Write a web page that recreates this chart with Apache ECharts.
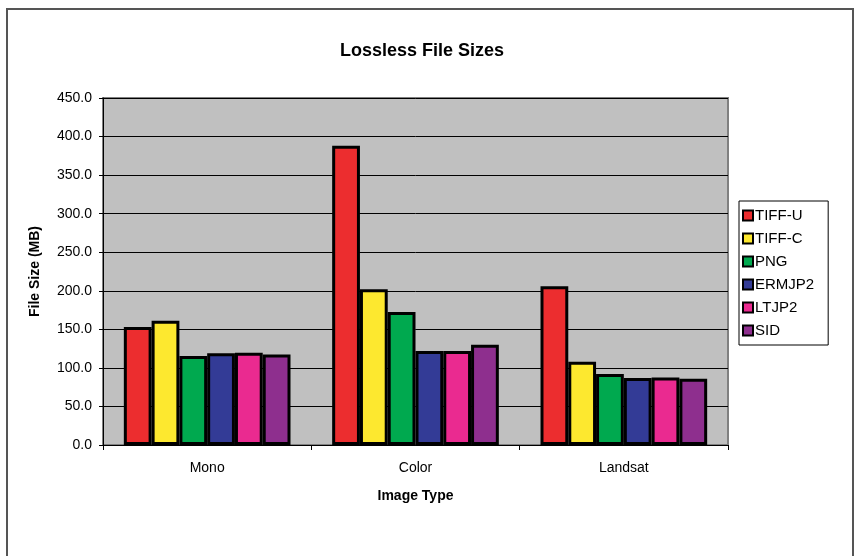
<!DOCTYPE html>
<html lang="en">
<head>
    <meta charset="UTF-8">
    <title>Lossless File Sizes</title>
    <style>
        body { margin: 0; background: #fff; }
        #chart { width: 860px; height: 556px; }
    </style>
</head>
<body>
    <div id="chart"></div>
    <script src="https://cdn.jsdelivr.net/npm/echarts@6/dist/echarts.min.js"></script>
    <script>
        const categories = ['Mono', 'Color', 'Landsat'];
        const seriesNames = ['TIFF-U', 'TIFF-C', 'PNG', 'ERMJP2', 'LTJP2', 'SID'];
        const tiffU = [153.0, 388.0, 206.0];
        const tiffC = [161.0, 202.0, 108.0];
        const png = [115.5, 172.5, 92.0];
        const ermjp2 = [119.0, 122.0, 87.0];
        const ltjp2 = [119.5, 122.0, 87.5];
        const sid = [117.5, 130.0, 86.0];
        const colors = ['#ec2d2f', '#fde82f', '#00a94f', '#333b96', '#ea2a90', '#8e2f8e'];

        const values = [tiffU, tiffC, png, ermjp2, ltjp2, sid];
        const font = 'Liberation Sans, Arial, sans-serif';

        const chart = echarts.init(document.getElementById('chart'));

        chart.setOption({
            animation: false,
            textStyle: { fontFamily: font },
            title: {
                text: 'Lossless File Sizes',
                left: 417,
                top: 37,
                textAlign: 'center',
                textStyle: { fontSize: 18, fontWeight: 'bold', color: '#000', fontFamily: font }
            },
            graphic: [{
                type: 'rect',
                shape: { x: 7, y: 9, width: 846, height: 560 },
                style: { fill: 'none', stroke: '#555', lineWidth: 2 },
                silent: true
            }],
            legend: {
                orient: 'vertical',
                left: 739,
                top: 201,
                padding: [7, 14, 7, 3],
                itemWidth: 10,
                itemHeight: 10,
                itemGap: 8,
                borderColor: '#000',
                borderWidth: 1,
                backgroundColor: '#fff',
                icon: 'rect',
                textStyle: { fontSize: 15, color: '#000', fontFamily: font, padding: [0, 0, 0, -3] },
                itemStyle: { borderColor: '#000', borderWidth: 2 },
                data: seriesNames
            },
            grid: {
                left: 103,
                right: 132,
                top: 98,
                bottom: 111,
                show: true,
                backgroundColor: '#c0c0c0',
                borderColor: '#808080',
                borderWidth: 2
            },
            xAxis: {
                type: 'category',
                data: categories,
                name: 'Image Type',
                nameLocation: 'middle',
                nameGap: 44,
                nameTextStyle: { fontSize: 14, fontWeight: 'bold', color: '#000', fontFamily: font },
                axisLine: { lineStyle: { color: '#000', width: 1 } },
                axisTick: { show: true, length: 5, lineStyle: { color: '#000' } },
                axisLabel: { fontSize: 14, color: '#000', margin: 16, fontFamily: font },
                splitLine: { show: false }
            },
            yAxis: {
                type: 'value',
                min: 0,
                max: 450,
                interval: 50,
                name: 'File Size (MB)',
                nameLocation: 'middle',
                nameGap: 61,
                nameTextStyle: { fontSize: 14, fontWeight: 'bold', color: '#000', fontFamily: font },
                axisLine: { show: true, lineStyle: { color: '#000', width: 1 } },
                axisTick: { show: true, length: 4, lineStyle: { color: '#000' } },
                axisLabel: {
                    fontSize: 14, color: '#000', margin: 11, fontFamily: font,
                    formatter: v => v.toFixed(1)
                },
                splitLine: { show: true, lineStyle: { color: '#000', width: 1 } }
            },
            series: seriesNames.map((name, i) => ({
                name: name,
                type: 'bar',
                data: values[i],
                barGap: '0%',
                barCategoryGap: '20%',
                itemStyle: { color: colors[i], borderColor: '#000', borderWidth: 3 }
            }))
        });
    </script>
</body>
</html>
